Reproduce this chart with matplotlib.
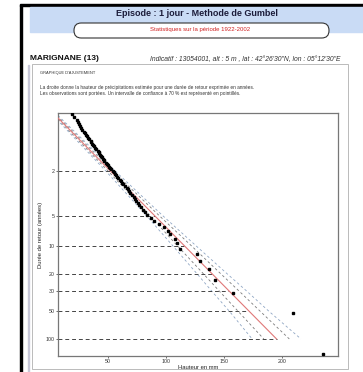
import numpy as np
import matplotlib.pyplot as plt
from matplotlib.patches import Rectangle, FancyBboxPatch

plt.rcParams['font.family'] = ['Liberation Sans', 'DejaVu Sans']

W, H = 363, 372

# maxima annuels (mm), tries
annual_max = [10, 14, 16, 18, 19, 21, 23, 24, 25, 26, 27, 28, 29, 30, 31, 32,
              33, 34, 35, 35.5, 36.5, 37, 38, 39, 40, 41, 42, 42.5, 43, 44,
              45, 46, 46.5, 47, 48, 49, 50, 51, 52, 53, 54, 55, 56, 57, 58,
              59, 60, 61, 62, 63, 64.5, 66, 67, 68, 69, 70.5, 72, 73, 74, 76,
              77, 78.5, 80, 82, 84, 87, 90, 94, 98, 101.8, 103.5, 108, 109.6,
              112, 126.8, 129.4, 137.2, 142.3, 157.9, 209.6, 235.4]
return_periods = [2, 5, 10, 20, 30, 50, 100]
x_ticks = [50, 100, 150, 200]
gumbel_loc = 39.6
gumbel_scale = 33.8
ci_T = [1.05, 2, 5, 10, 20, 30, 50, 100]
ci_inner = [1, 2, 4, 6, 7.5, 8.5, 9.5, 11]
ci_outer = [2, 4, 7, 10, 13, 15, 17, 21]


def gumbel_u(T):
    T = np.asarray(T, float)
    return -np.log(-np.log(1 - 1 / T))


def fx(x):
    return x / W


def fy(y):
    return 1 - y / H


fig = plt.figure(figsize=(W / 100, H / 100), dpi=100)

# cadre de la page
fig.patches.append(Rectangle((fx(20), fy(372)), 2 / W, 367 / H, transform=fig.transFigure,
                             color='black', zorder=0))
fig.patches.append(Rectangle((fx(20), fy(6)), 343 / W, 2 / H, transform=fig.transFigure,
                             color='black', zorder=0))
fig.patches.append(Rectangle((fx(30), fy(32)), 333 / W, 25 / H, transform=fig.transFigure,
                             color='#c9dbf5', zorder=0))
fig.patches.append(FancyBboxPatch((fx(74), fy(38)), 255 / W, 15 / H, transform=fig.transFigure,
                                  boxstyle='round,pad=0,rounding_size=0.02',
                                  fc='white', ec='#333333', lw=0.8, zorder=1))
fig.patches.append(Rectangle((fx(32), fy(369)), 316 / W, 305 / H, transform=fig.transFigure,
                             fill=False, ec='#b0b0b0', lw=0.6, zorder=0))
fig.patches.append(Rectangle((fx(28), fy(372)), 0.6 / W, 307 / H, transform=fig.transFigure,
                             color='#c8c8d8', zorder=0))

fig.text(fx(197), fy(13), 'Episode : 1 jour - Methode de Gumbel', ha='center', va='center',
         fontsize=6.5, fontweight='bold', color='#1c1c3a')
fig.text(fx(200), fy(30), 'Statistiques sur la période 1922-2002', ha='center', va='center',
         fontsize=4.3, color='#d02020')
fig.text(fx(30), fy(58), 'MARIGNANE (13)', ha='left', va='center', fontsize=6,
         fontweight='bold', color='#111111')
fig.text(fx(150), fy(60), "Indicatif : 13054001, alt : 5 m , lat : 42°26'30\"N, lon : 05°12'30\"E",
         ha='left', va='center', fontsize=4.9, style='italic', color='#333333')
fig.text(fx(40), fy(73), "GRAPHIQUE D'AJUSTEMENT", ha='left', va='center', fontsize=2.9,
         color='#333333')
fig.text(fx(40), fy(88), "La droite donne la hauteur de précipitations estimée pour une durée de retour exprimée en années.",
         ha='left', va='center', fontsize=3.4, color='#333333')
fig.text(fx(40), fy(93), "Les observations sont portées. Un intervalle de confiance à 70 % est représenté en pointillés.",
         ha='left', va='center', fontsize=3.4, color='#333333')

# graphique
ax = fig.add_axes([fx(58), fy(356), 280 / W, 243 / H])
ax.set_xlim(7, 248)
ax.set_ylim(5.03, -1.09)

n = len(annual_max)
ranks = np.arange(1, n + 1)
F = (ranks - 0.44) / (n + 0.12)
u_obs = -np.log(-np.log(F))

u_line = np.array([-1.09, gumbel_u(100)])
ax.plot(gumbel_loc + gumbel_scale * u_line, u_line, color='#e07878', lw=0.8, zorder=3)

u_ci = gumbel_u(ci_T)
fit_ci = gumbel_loc + gumbel_scale * u_ci
dash = (0, (3, 3))
ax.plot(fit_ci - np.array(ci_inner), u_ci, color='#7a7a7a', lw=0.6, ls=dash)
ax.plot(fit_ci + np.array(ci_inner), u_ci, color='#7a7a7a', lw=0.6, ls=dash)
ax.plot(fit_ci - np.array(ci_outer), u_ci, color='#8fa6c4', lw=0.6, ls=dash)
ax.plot(fit_ci + np.array(ci_outer), u_ci, color='#8fa6c4', lw=0.6, ls=dash)

u_rp = gumbel_u(return_periods)
ax.hlines(u_rp, 7, gumbel_loc + gumbel_scale * u_rp, colors='#444444', lw=0.7,
          linestyles=(0, (4, 3)))

ax.plot(annual_max, u_obs, 's', ms=1.6, color='black', zorder=4)

ax.set_yticks(u_rp)
ax.set_yticklabels([str(t) for t in return_periods])
ax.set_xticks(x_ticks)
ax.tick_params(labelsize=3.8, length=1.5, width=0.5, pad=1, colors='#333333')
for s in ax.spines.values():
    s.set_color('#777777')
    s.set_linewidth(0.9)
ax.set_xlabel('Hauteur en mm', fontsize=4.2, labelpad=0.5, color='#222222')
ax.set_ylabel('Durée de retour (années)', fontsize=4.2, labelpad=1.5, color='#222222')

fig.savefig('out.png', dpi=100)
